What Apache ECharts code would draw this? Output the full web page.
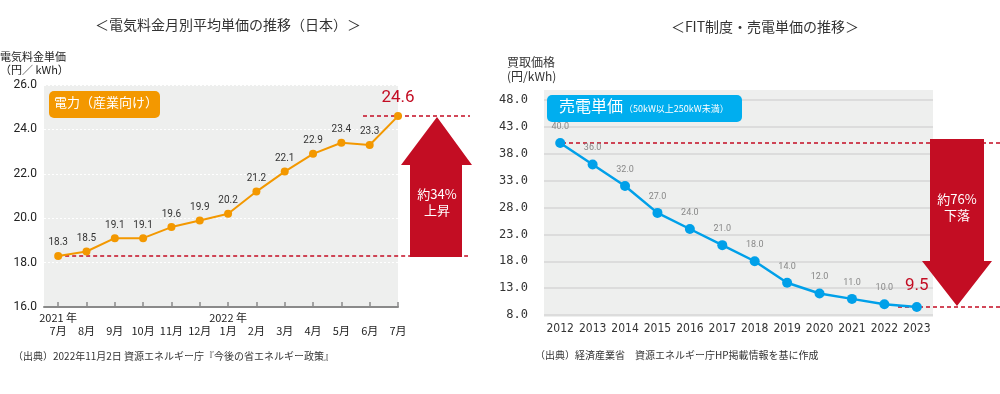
<!DOCTYPE html>
<html><head><meta charset="utf-8">
<script src="https://cdn.jsdelivr.net/npm/echarts@6/dist/echarts.min.js"></script>
<style>html,body{margin:0;padding:0;background:#fff}#c{width:1000px;height:394px}</style>
</head><body><div id="c"></div>
<script>
// Left chart data
const monthLabels = ['7月','8月','9月','10月','11月','12月','1月','2月','3月','4月','5月','6月','7月'];
const yearLabels  = ['2021 年','','','','','','2022 年','','','','','',''];
const elecPrice   = [18.3,18.5,19.1,19.1,19.6,19.9,20.2,21.2,22.1,22.9,23.4,23.3,24.6];
// Right chart data
const fitYears = ['2012','2013','2014','2015','2016','2017','2018','2019','2020','2021','2022','2023'];
const fitPrice = [40.0,36.0,32.0,27.0,24.0,21.0,18.0,14.0,12.0,11.0,10.0,9.5];

const RED = '#c30d23';
const JP = '"Noto Sans CJK JP","Noto Sans",sans-serif';
const chart = echarts.init(document.getElementById('c'));

const leftData = elecPrice.map((v, i) => {
  const d = { value: [i, v] };
  if (i === elecPrice.length - 1) d.label = { color: RED, fontSize: 17, distance: 6, fontFamily: 'Roboto' };
  return d;
});
const rightData = fitPrice.map((v, i) => {
  const d = { value: v };
  if (i === fitPrice.length - 1) d.label = { color: RED, fontSize: 17, distance: 8, formatter: p => p.value.toFixed(1) };
  return d;
});

chart.setOption({
  animation: false,
  title: [
    { text: '＜電気料金月別平均単価の推移（日本）＞', left: 223, top: 13, textAlign: 'center',
      textStyle: { fontSize: 14, fontWeight: 'normal', color: '#333', fontFamily: JP } },
    { text: '＜FIT制度・売電単価の推移＞', left: 760, top: 15, textAlign: 'center',
      textStyle: { fontSize: 14, fontWeight: 'normal', color: '#333', fontFamily: JP } }
  ],
  grid: [
    { left: 44, top: 85, width: 354, height: 222, show: true, backgroundColor: '#eeefee', borderWidth: 0 },
    { left: 544, top: 100, width: 389, height: 215, show: false }
  ],
  xAxis: [
    { type: 'value', gridIndex: 0, min: -0.5, max: 12,
      axisLine: { show: true, onZero: false, lineStyle: { color: '#8a8a8a', width: 2 } },
      axisTick: { show: true, inside: true, length: 5, customValues: monthLabels.map((m, i) => i), lineStyle: { color: '#8a8a8a', width: 1.5 } },
      splitLine: { show: false },
      axisLabel: { customValues: monthLabels.map((m, i) => i), margin: 4, color: '#222',
        formatter: v => '{y|' + (yearLabels[v] || ' ') + '}\n{m|' + monthLabels[v] + '}',
        rich: { y: { fontSize: 11, lineHeight: 13, fontFamily: JP, color: '#222' },
                m: { fontSize: 11, lineHeight: 13, fontFamily: JP, color: '#222' } } } },
    { type: 'category', gridIndex: 1, data: fitYears, boundaryGap: true,
      axisLine: { show: false }, axisTick: { show: false },
      axisLabel: { interval: 0, margin: 8, fontSize: 12, color: '#333', fontFamily: '"DejaVu Sans Condensed","Liberation Sans Narrow",Roboto,sans-serif' } }
  ],
  yAxis: [
    { type: 'value', gridIndex: 0, min: 16, max: 26, interval: 2,
      axisLine: { show: false }, axisTick: { show: false },
      splitLine: { show: true, lineStyle: { color: '#ffffff', type: [2, 2], width: 1 } },
      axisLabel: { margin: 7, fontSize: 12, color: '#222', fontFamily: 'Roboto', formatter: v => v.toFixed(1) } },
    { type: 'value', gridIndex: 1, min: 8, max: 48, interval: 5,
      axisLine: { show: false }, axisTick: { show: false },
      splitLine: { show: true, lineStyle: { color: '#dcdcdc', width: 2 } },
      axisLabel: { margin: 16, fontSize: 12, color: '#333', fontFamily: '"DejaVu Sans Mono",monospace', formatter: v => v.toFixed(1) } }
  ],
  series: [
    { type: 'line', xAxisIndex: 0, yAxisIndex: 0, data: leftData,
      color: '#f39800', lineStyle: { width: 2 }, symbol: 'circle', symbolSize: 8, z: 5,
      label: { show: true, position: 'top', distance: 4, fontSize: 10, color: '#333', fontFamily: 'Roboto',
        formatter: p => p.value[1].toFixed(1) },
      markLine: { silent: true, symbol: 'none', animation: false,
        lineStyle: { color: RED, type: [4, 3], width: 1.5 }, label: { show: false },
        data: [
          [{ xAxis: 0, yAxis: elecPrice[0] }, { x: 468, yAxis: elecPrice[0] }],
          [{ x: 363, yAxis: elecPrice[elecPrice.length - 1] }, { x: 470, yAxis: elecPrice[elecPrice.length - 1] }]
        ] } },
    { type: 'line', xAxisIndex: 1, yAxisIndex: 1, data: rightData,
      color: '#00a0e9', lineStyle: { width: 2.5 }, symbol: 'circle', symbolSize: 10, z: 5,
      label: { show: true, position: 'top', distance: 7, fontSize: 9, color: '#888', fontFamily: 'Roboto',
        formatter: p => p.value.toFixed(1) },
      markLine: { silent: true, symbol: 'none', animation: false,
        lineStyle: { color: RED, type: [4, 3], width: 1.5 }, label: { show: false },
        data: [
          [{ x: 562, yAxis: fitPrice[0] }, { x: 1000, yAxis: fitPrice[0] }],
          [{ x: 898, yAxis: fitPrice[fitPrice.length - 1] }, { x: 1000, yAxis: fitPrice[fitPrice.length - 1] }]
        ] } }
  ],
  graphic: [
    // right plot background
    { type: 'rect', z: -10, silent: true, shape: { x: 544, y: 90, width: 389, height: 227 }, style: { fill: '#eeefee' } },
    // axis names
    { type: 'text', x: 0, y: 50, style: { text: '電気料金単価\n（円／ kWh）', fontSize: 11, lineHeight: 13, fill: '#222', fontFamily: JP } },
    { type: 'text', x: 507, y: 55, style: { text: '買取価格\n(円/kWh)', fontSize: 12, lineHeight: 14, fill: '#333', fontFamily: JP } },
    // legend boxes
    { type: 'rect', z: 10, shape: { x: 49, y: 91, width: 111, height: 27, r: 5 }, style: { fill: '#f39800' } },
    { type: 'text', z: 11, x: 54, y: 96, style: { text: '電力（産業向け）', fontSize: 13, fill: '#fff', fontFamily: JP } },
    { type: 'rect', z: 10, shape: { x: 547, y: 95, width: 195, height: 27, r: 5 }, style: { fill: '#00aeef' } },
    { type: 'text', z: 11, x: 559, y: 98, style: { text: '売電単価', fontSize: 16, fill: '#fff', fontFamily: JP } },
    { type: 'text', z: 11, x: 624, y: 104, style: { text: '（50kW以上250kW未満）', fontSize: 9, fill: '#fff', fontFamily: JP } },
    // up arrow
    { type: 'polygon', z: 10, shape: { points: [[437,117],[472,165],[462,165],[462,257],[410,257],[410,165],[401,165]] }, style: { fill: RED } },
    { type: 'text', z: 11, x: 437, y: 186, style: { text: '約34%\n上昇', fontSize: 13, lineHeight: 16, fill: '#fff', align: 'center', fontFamily: JP } },
    // down arrow
    { type: 'polygon', z: 10, shape: { points: [[930,139],[984,139],[984,261],[992,261],[957,306],[922,261],[930,261]] }, style: { fill: RED } },
    { type: 'text', z: 11, x: 957, y: 191, style: { text: '約76%\n下落', fontSize: 13, lineHeight: 16, fill: '#fff', align: 'center', fontFamily: JP } },
    // sources
    { type: 'text', x: 13, y: 351, style: { text: '（出典）2022年11月2日 資源エネルギー庁『今後の省エネルギー政策』', fontSize: 10, fill: '#333', fontFamily: JP } },
    { type: 'text', x: 535, y: 350, style: { text: '（出典）経済産業省　資源エネルギー庁HP掲載情報を基に作成', fontSize: 10, fill: '#333', fontFamily: JP } }
  ]
});
</script></body></html>
